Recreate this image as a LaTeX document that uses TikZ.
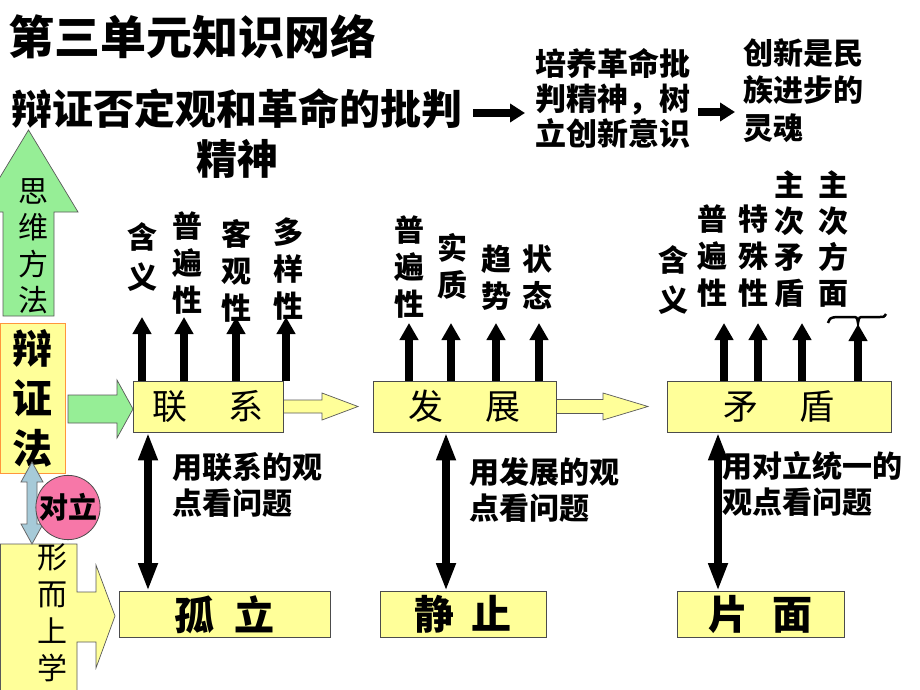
\documentclass[tikz,border=0pt]{standalone}
\usepackage{fontspec}
\setmainfont{Noto Sans CJK SC}
\usetikzlibrary{arrows.meta}
\definecolor{boxyellow}{RGB}{255,255,153}
\definecolor{arrgreen}{RGB}{150,238,150}
\definecolor{arrblue}{RGB}{166,202,216}
\definecolor{circpink}{RGB}{247,119,168}
\definecolor{bzborder}{RGB}{255,150,60}
\newcommand\myfs[2]{\fontsize{#1pt}{#2pt}\selectfont}
\begin{document}
\begin{tikzpicture}[x=1pt,y=-1pt,
  ybox/.style={draw=black!70, line width=0.8pt, fill=boxyellow, inner sep=0, minimum height=51pt, font=\myfs{35}{35}},
  bbox/.style={draw=black!70, line width=0.8pt, fill=boxyellow, inner sep=0, minimum height=46pt, font=\myfs{40}{40}\bfseries},
  vlab/.style={inner sep=0, align=center, font=\myfs{30}{37}\bfseries},
  vreg/.style={inner sep=0, align=center, font=\myfs{30}{36.5}},
  hlab/.style={anchor=west, inner sep=0, align=left, font=\myfs{30}{36}\bfseries},
  uparr/.style={line width=8pt, -{Triangle[length=17pt,width=18pt]}},
  dblarr/.style={line width=8pt, {Triangle[length=28pt,width=18pt]}-{Triangle[length=28pt,width=18pt]}},
  toparr/.style={line width=8pt, -{Triangle[length=15pt,width=18pt]}},
  blockarr/.style={draw=black!65, line width=0.7pt},
]
\useasboundingbox (0,0) rectangle (920,690);

% ---------- top texts ----------
\node[anchor=west,inner sep=0,font=\myfs{46}{46}\bfseries] (title) at (8,37) {第三单元知识网络};
\node[anchor=west,inner sep=0,font=\myfs{41}{41}\bfseries] (dz1) at (11,109) {辩证否定观和革命的批判};
\node[inner sep=0,font=\myfs{41}{41}\bfseries] (dz2) at (237,159) {精神};
\node[anchor=west,inner sep=0,align=left,font=\myfs{31}{35}\bfseries] (py) at (535.5,98) {培养革命批\\判精神，树\\立创新意识};
\node[anchor=west,inner sep=0,align=left,font=\myfs{30}{37.5}\bfseries] (cx) at (743.5,90.5) {创新是民\\族进步的\\灵魂};
\coordinate (ta1s) at (473,113); \coordinate (ta1e) at (525,113);
\coordinate (ta2s) at (698,112); \coordinate (ta2e) at (735,112);
\draw[toparr] (ta1s) -- (ta1e);
\draw[toparr] (ta2s) -- (ta2e);

% ---------- left column ----------
\draw[blockarr, fill=arrgreen] (3,316) -- (3,212) -- (-21,212) -- (28.5,130) -- (78,212) -- (54,212) -- (54,316) -- cycle;
\node[vreg] (sw) at (33,246) {思\\维\\方\\法};

\node[draw=bzborder, line width=1pt, fill=boxyellow, inner sep=0, minimum width=65pt, minimum height=150pt,
      align=center, font=\myfs{40}{50}\bfseries] (bzf) at (32.5,398) {辩\\证\\法};

\draw[blockarr, fill=arrgreen] (68,395) -- (117,395) -- (117,380) -- (133,409) -- (117,438) -- (117,423) -- (68,423) -- cycle;

\draw[blockarr, fill=boxyellow] (0.5,692) -- (0.5,544) -- (77,544) -- (77,592) -- (96,592) -- (96,565) -- (115,616) -- (96,668) -- (96,642) -- (77,642) -- (77,692);
\node[vreg, font=\myfs{30}{37}] (xe) at (52,613) {形\\而\\上\\学};

\draw[draw=black!60, line width=0.8pt, fill=arrblue] (32,462) -- (43,482) -- (37,482) -- (37,524) -- (43,524) -- (32,544) -- (21,524) -- (27,524) -- (27,482) -- (21,482) -- cycle;
\node[circle, fill=circpink, draw=black!70, line width=0.8pt, minimum size=64pt, inner sep=0, font=\myfs{29}{29}\bfseries] (dl) at (68,507.5) {对立};

% ---------- main boxes ----------
\draw[blockarr, fill=boxyellow] (283,400) -- (322,400) -- (322,393) -- (358,406.5) -- (322,420) -- (322,413) -- (283,413);
\draw[blockarr, fill=boxyellow] (556,399.5) -- (603,399.5) -- (603,393) -- (648,406.5) -- (603,420) -- (603,413.5) -- (556,413.5);

\node[ybox, minimum width=150pt] (lx) at (208,406.5) {联\hspace{1.15em}系};
\node[ybox, minimum width=183pt] (fz) at (464.5,406.5) {发\hspace{1.2em}展};
\node[ybox, minimum width=224pt] (md) at (779,406.5) {矛\hspace{1.2em}盾};

\node[bbox, minimum width=211pt] (gl) at (224.5,614.5) {孤\hspace{0.52em}立};
\node[bbox, minimum width=166pt] (jz) at (463,614.5) {静\hspace{0.45em}止};
\node[bbox, minimum width=167pt] (pm) at (760.5,614.5) {片\hspace{0.58em}面};

% ---------- labels above 联系 ----------
\node[vlab, font=\myfs{30}{40}\bfseries] (l1) at (142,257) {含\\义};
\node[vlab] (l2) at (187,263.5) {普\\遍\\性};
\node[vlab] (l3) at (236,271) {客\\观\\性};
\node[vlab] (l4) at (288,269.5) {多\\样\\性};
\coordinate (t1) at (142,317); \coordinate (t2) at (184,317);
\coordinate (t3) at (236,317); \coordinate (t4) at (286,317);
\foreach \t in {t1,t2,t3,t4} \draw[uparr] (\t |- lx.north) -- (\t);

% ---------- labels above 发展 ----------
\node[vlab] (f1) at (409,267.5) {普\\遍\\性};
\node[vlab] (f2) at (452,266.5) {实\\质};
\node[vlab] (f3) at (496,277.5) {趋\\势};
\node[vlab] (f4) at (537,277.5) {状\\态};
\coordinate (s1) at (409,323); \coordinate (s2) at (451,323);
\coordinate (s3) at (496,323); \coordinate (s4) at (539,323);
\foreach \t in {s1,s2,s3,s4} \draw[uparr] (\t |- fz.north) -- (\t);

% ---------- labels above 矛盾 ----------
\node[vlab, font=\myfs{30}{40}\bfseries] (m1) at (673,280) {含\\义};
\node[vlab] (m2) at (712,256) {普\\遍\\性};
\node[vlab] (m3) at (753,256) {特\\殊\\性};
\node[vlab, font=\myfs{30}{36}\bfseries] (m4) at (789,239) {主\\次\\矛\\盾};
\node[vlab, font=\myfs{30}{36}\bfseries] (m5) at (833,239) {主\\次\\方\\面};
\coordinate (u1) at (724,323); \coordinate (u2) at (758,323);
\coordinate (u3) at (802,323); \coordinate (u4) at (858,324);
\foreach \t in {u1,u2,u3,u4} \draw[uparr] (\t |- md.north) -- (\t);
\draw[line width=2.5pt] (828,323) .. controls (830,318) .. (836,317) -- (852,317) .. controls (857,317) .. (858,323) .. controls (859,317) .. (864,317) -- (880,317) .. controls (884,317) .. (886,314);

% ---------- vertical double arrows ----------
\coordinate (d1) at (148,500); \coordinate (d2) at (446,500); \coordinate (d3) at (718,500);
\draw[dblarr] (d1 |- lx.south) -- (d1 |- gl.north);
\draw[dblarr] (d2 |- fz.south) -- (d2 |- jz.north);
\draw[dblarr] (d3 |- md.south) -- (d3 |- pm.north);

\node[hlab] (h1) at (172,485) {用联系的观\\点看问题};
\node[hlab] (h2) at (469,490.5) {用发展的观\\点看问题};
\node[hlab] (h3) at (722,483.5) {用对立统一的\\观点看问题};
\end{tikzpicture}
\end{document}
